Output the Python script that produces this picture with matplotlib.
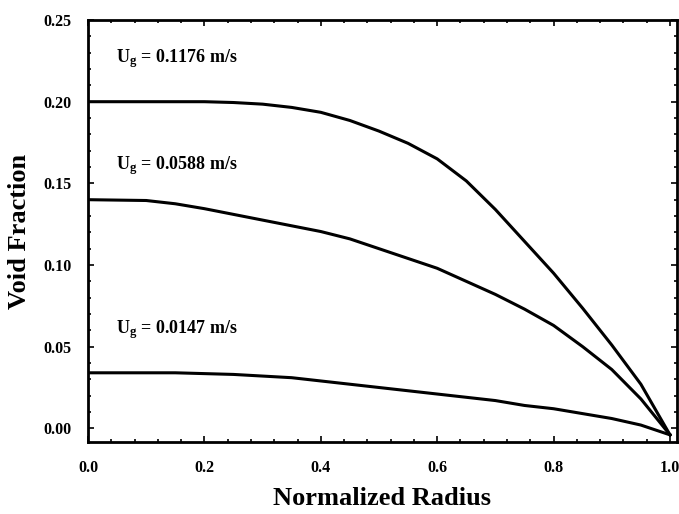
import matplotlib
matplotlib.use("Agg")
import matplotlib.pyplot as plt
from matplotlib.ticker import MultipleLocator

# Normalized radius grid shared by all three profiles
radius = [0.0, 0.1, 0.15, 0.2, 0.25, 0.3, 0.35, 0.4, 0.45, 0.5, 0.55,
          0.6, 0.65, 0.7, 0.75, 0.8, 0.85, 0.9, 0.95, 1.0]

# Void fraction profiles
void_hi = [0.200, 0.200, 0.200, 0.200, 0.1995, 0.1985, 0.1965, 0.1935, 0.1885, 0.182,
           0.1745, 0.165, 0.1515, 0.134, 0.1145, 0.095, 0.0735, 0.051, 0.027, -0.004]
void_mid = [0.140, 0.1395, 0.1375, 0.1345, 0.1310, 0.1275, 0.124, 0.1205, 0.116, 0.110,
            0.104, 0.098, 0.090, 0.082, 0.073, 0.063, 0.050, 0.036, 0.018, -0.004]
void_lo = [0.034, 0.034, 0.034, 0.0335, 0.033, 0.032, 0.031, 0.029, 0.027, 0.025,
           0.023, 0.021, 0.019, 0.017, 0.014, 0.012, 0.009, 0.006, 0.002, -0.004]

labels = ["0.1176", "0.0588", "0.0147"]
label_y = [0.2265, 0.1606, 0.0605]

plt.rcParams['font.family'] = 'Liberation Serif'
plt.rcParams['font.weight'] = 'bold'
plt.rcParams['mathtext.fontset'] = 'custom'
plt.rcParams['mathtext.rm'] = 'Liberation Serif:bold'
plt.rcParams['mathtext.it'] = 'Liberation Serif:bold'
plt.rcParams['mathtext.bf'] = 'Liberation Serif:bold'

fig = plt.figure(figsize=(6.79, 5.14), dpi=100)
ax = fig.add_axes([0.1296, 0.140, 0.8674, 0.821])

for vals in (void_hi, void_mid, void_lo):
    ax.plot(radius, vals, color='black', linewidth=2.2)

for lab, yy in zip(labels, label_y):
    ax.text(0.048, yy, r"U$_\mathrm{g}$ = " + lab + " m/s", fontsize=13,
            fontweight='bold', va='center', ha='left')

ax.set_xlim(0.0, 1.012)
ax.set_ylim(-0.0084, 0.2458)
ax.set_xticks([0.0, 0.2, 0.4, 0.6, 0.8, 1.0])
ax.set_yticks([0.00, 0.05, 0.10, 0.15, 0.20, 0.25])
ax.set_xticklabels(["0.0", "0.2", "0.4", "0.6", "0.8", "1.0"])
ax.set_yticklabels(["0.00", "0.05", "0.10", "0.15", "0.20", "0.25"])
ax.xaxis.set_minor_locator(MultipleLocator(0.04))
ax.yaxis.set_minor_locator(MultipleLocator(0.01))
ax.tick_params(which='both', direction='in', top=True, right=True, width=1.2)
ax.tick_params(which='major', length=4, labelsize=11.5)
ax.tick_params(axis='x', which='major', pad=13)
ax.tick_params(axis='y', which='major', pad=12)
ax.tick_params(which='minor', length=2.5)
for s in ax.spines.values():
    s.set_linewidth(2.0)

ax.set_xlabel("Normalized Radius", fontsize=19, fontweight='bold', labelpad=8)
ax.set_ylabel("Void Fraction", fontsize=19, fontweight='bold', labelpad=8.5)

fig.savefig("out.png", dpi=100)
